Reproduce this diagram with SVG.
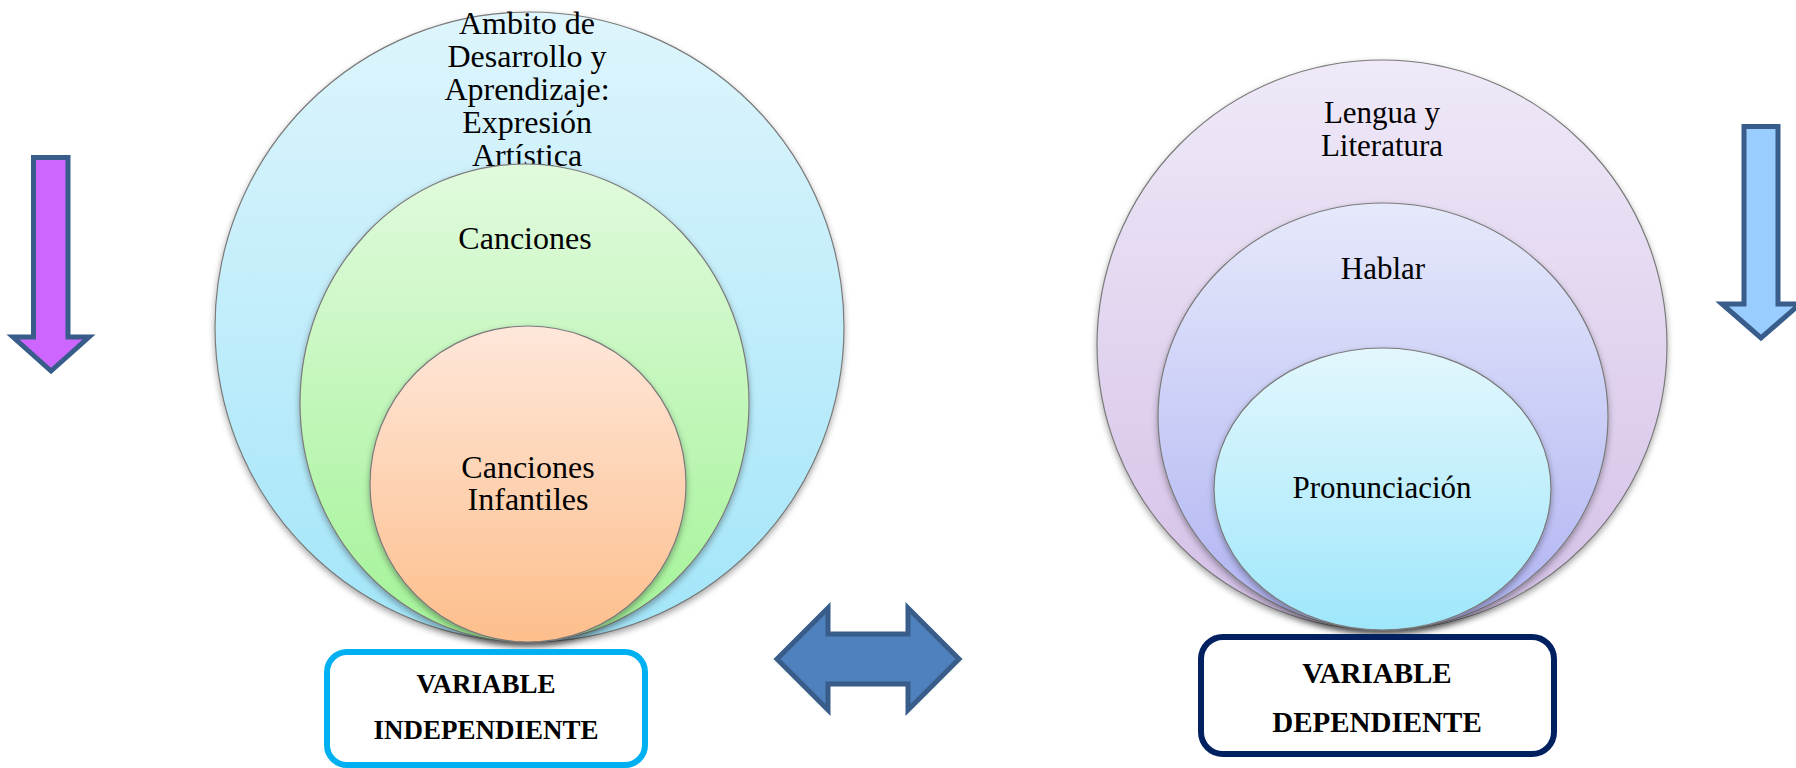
<svg xmlns="http://www.w3.org/2000/svg" width="1796" height="768" viewBox="0 0 1796 768">
<style>
.lbl{font-family:"Liberation Serif","Times New Roman",serif;font-size:32px;fill:#000;text-anchor:middle}
.lblr{font-family:"Liberation Serif","Times New Roman",serif;font-size:31px;fill:#000;text-anchor:middle}
.bold{font-family:"Liberation Serif","Times New Roman",serif;font-weight:bold;fill:#000;text-anchor:middle}
.ell{stroke:#7a7a7a;stroke-width:1.2;filter:url(#sh)}
.arr{stroke:#385D8A;stroke-width:5;stroke-linejoin:miter}
</style>
<defs>
<filter id="sh" x="-10%" y="-10%" width="120%" height="125%">
<feDropShadow dx="0" dy="3" stdDeviation="3" flood-color="#000" flood-opacity="0.35"/>
</filter>
<linearGradient id="gBlue" x1="0" y1="0" x2="0" y2="1"><stop offset="0" stop-color="#DEF5FC"/><stop offset="1" stop-color="#A2E5F9"/></linearGradient>
<linearGradient id="gGreen" x1="0" y1="0" x2="0" y2="1"><stop offset="0" stop-color="#E1FADD"/><stop offset="1" stop-color="#A3F397"/></linearGradient>
<linearGradient id="gOrange" x1="0" y1="0" x2="0" y2="1"><stop offset="0" stop-color="#FEE7DA"/><stop offset="1" stop-color="#FDBE8B"/></linearGradient>
<linearGradient id="gPurple" x1="0" y1="0" x2="0" y2="1"><stop offset="0" stop-color="#EFE9F8"/><stop offset="1" stop-color="#D4C0E7"/></linearGradient>
<linearGradient id="gLav" x1="0" y1="0" x2="0" y2="1"><stop offset="0" stop-color="#E6E9FB"/><stop offset="1" stop-color="#AFB3F2"/></linearGradient>
<linearGradient id="gCyan" x1="0" y1="0" x2="0" y2="1"><stop offset="0" stop-color="#E3F7FD"/><stop offset="1" stop-color="#9FE7FB"/></linearGradient>
</defs>

<g id="arrow-left-down">
<path class="arr" fill="#CC66FF" d="M33.5,157.5 H68 V337 H89 L51,371 L13,337 H33.5 Z"/>
</g>

<g id="arrow-right-down">
<path class="arr" fill="#99CCFF" d="M1744,126.5 H1778 V304 H1800 L1761,338 L1722,304 H1744 Z"/>
</g>

<g id="node-ambito">
<ellipse class="ell" cx="529.5" cy="327" rx="314.5" ry="315" fill="url(#gBlue)"/>
<text class="lbl" x="527" y="34">Ambito de</text>
<text class="lbl" x="527" y="67">Desarrollo y</text>
<text class="lbl" x="527" y="100">Aprendizaje:</text>
<text class="lbl" x="527" y="133">Expresión</text>
<text class="lbl" x="527" y="166">Artística</text>
</g>
<g id="node-canciones">
<ellipse class="ell" cx="524.5" cy="403" rx="224.5" ry="239" fill="url(#gGreen)"/>
<text class="lbl" x="525" y="249">Canciones</text>
</g>
<g id="node-infantiles">
<ellipse class="ell" cx="528" cy="484" rx="158" ry="158" fill="url(#gOrange)"/>
<text class="lbl" x="528" y="478">Canciones</text>
<text class="lbl" x="528" y="510">Infantiles</text>
</g>

<g id="node-lengua">
<ellipse class="ell" cx="1382" cy="345" rx="285" ry="285" fill="url(#gPurple)"/>
<text class="lblr" x="1382" y="123">Lengua y</text>
<text class="lblr" x="1382" y="156">Literatura</text>
</g>
<g id="node-hablar">
<ellipse class="ell" cx="1383" cy="416.5" rx="225" ry="213.5" fill="url(#gLav)"/>
<text class="lblr" x="1383" y="279">Hablar</text>
</g>
<g id="node-pronunciacion">
<ellipse class="ell" cx="1382.5" cy="489" rx="168.5" ry="141" fill="url(#gCyan)"/>
<text class="lblr" x="1382" y="498">Pronunciación</text>
</g>

<g id="node-var-indep">
<rect x="327" y="652" width="318" height="113" rx="20" ry="20" fill="#fff" stroke="#00B0F0" stroke-width="6"/>
<text class="bold" font-size="27" x="486" y="693">VARIABLE</text>
<text class="bold" font-size="27" x="486" y="739">INDEPENDIENTE</text>
</g>

<g id="node-var-dep">
<rect x="1201" y="637" width="353" height="117" rx="22" ry="22" fill="#fff" stroke="#002060" stroke-width="6"/>
<text class="bold" font-size="29" x="1377" y="683">VARIABLE</text>
<text class="bold" font-size="29" x="1377" y="732">DEPENDIENTE</text>
</g>

<g id="connectors">
<path class="arr" stroke-width="4" stroke-linejoin="round" fill="#4F81BD" d="M777,659 L828,608 V634 H908 V608 L959,659 L908,710 V684 H828 V710 Z"/>
</g>
</svg>
